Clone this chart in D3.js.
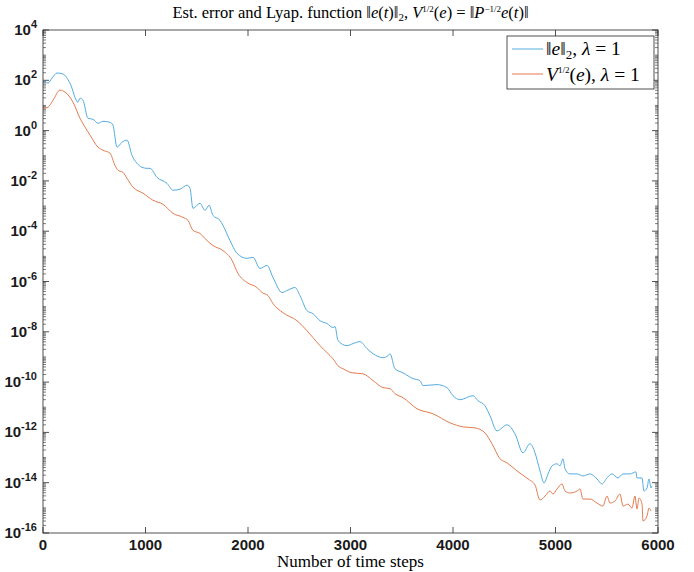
<!DOCTYPE html>
<html>
<head>
<meta charset="utf-8">
<script src="https://cdn.jsdelivr.net/npm/d3@7"></script>
<style>
  body { margin: 0; background: #fff; }
  .tick-lbl { font-family: "Liberation Sans", Arial, sans-serif; font-weight: bold; fill: #1a1a1a; }
  .tex { font-family: "Liberation Serif", "DejaVu Serif", serif; fill: #000; }
</style>
</head>
<body>
<div id="chart"></div>
<script>
// Data (x = time step, y stored as log10 of the value)
const errSteps = [0, 49, 88, 137, 195, 263, 341, 361, 390, 439, 488, 537, 585, 654, 683, 722, 771, 820, 868, 917,
  966, 1015, 1044, 1112, 1210, 1268, 1337, 1405, 1434, 1463, 1532, 1580, 1620, 1658, 1727, 1756, 1824, 1893, 1990, 2049,
  2117, 2185, 2244, 2332, 2380, 2459, 2507, 2576, 2634, 2702, 2771, 2829, 2849, 2878, 2966, 3024, 3093, 3161, 3220, 3317,
  3366, 3385, 3434, 3512, 3610, 3678, 3707, 3844, 3941, 4000, 4068, 4195, 4244, 4312, 4361, 4429, 4527, 4605, 4683, 4751,
  4800, 4849, 4888, 4927, 4966, 5015, 5044, 5073, 5093, 5141, 5210, 5268, 5337, 5405, 5454, 5502, 5551, 5610, 5659, 5727,
  5785, 5795, 5844, 5863, 5893, 5912, 5932, 5941];
const errLog = [2.01, 1.89, 2.09, 2.29, 2.25, 1.89, 1.13, 1.29, 1.21, 0.49, 0.45, 0.29, 0.37, 0.33, 0.21, -0.66, -0.46, -0.38, -0.98, -1.30,
  -1.46, -1.50, -1.50, -1.86, -2.10, -2.37, -2.33, -2.17, -2.29, -3.09, -2.89, -3.17, -2.97, -3.37, -3.57, -3.77, -4.37, -4.88, -5.08, -5.04,
  -5.48, -5.36, -5.84, -6.44, -6.36, -6.24, -6.56, -7.16, -7.28, -7.56, -7.67, -7.83, -7.79, -8.35, -8.55, -8.47, -8.39, -8.67, -8.87, -9.03,
  -8.95, -8.87, -9.47, -9.63, -9.86, -9.94, -10.14, -10.10, -10.22, -10.54, -10.70, -10.54, -10.74, -10.94, -11.34, -11.94, -11.70, -12.06, -12.81, -12.45,
  -12.81, -13.53, -14.01, -13.65, -13.33, -13.25, -13.33, -13.05, -13.45, -13.65, -13.65, -13.73, -13.65, -13.85, -14.05, -13.81, -13.65, -13.81, -13.65, -13.65,
  -13.57, -13.81, -13.81, -14.33, -14.21, -13.85, -14.21, -14.13];

const lyapSteps = [0, 49, 98, 166, 215, 293, 361, 410, 459, 537, 585, 654, 702, 732, 780, 820, 878, 976, 1073, 1171,
  1268, 1366, 1415, 1463, 1532, 1580, 1658, 1756, 1844, 1902, 1990, 2088, 2137, 2195, 2244, 2341, 2478, 2576, 2634, 2702,
  2771, 2829, 2878, 2927, 3015, 3122, 3220, 3317, 3385, 3434, 3512, 3649, 3805, 3971, 4098, 4215, 4312, 4380, 4459, 4527,
  4624, 4732, 4800, 4849, 4898, 4946, 4976, 5015, 5063, 5093, 5141, 5210, 5239, 5268, 5337, 5405, 5463, 5502, 5532, 5580,
  5629, 5659, 5707, 5746, 5775, 5795, 5815, 5844, 5854, 5893, 5912, 5932];
const lyapLog = [0.89, 0.93, 1.21, 1.61, 1.53, 1.13, 0.49, 0.14, -0.18, -0.66, -0.78, -0.90, -1.38, -1.58, -1.66, -1.90, -2.25, -2.49, -2.77, -2.93,
  -3.29, -3.45, -3.57, -3.97, -4.09, -4.29, -4.57, -4.77, -5.16, -5.68, -6.04, -6.24, -6.44, -6.56, -6.88, -7.24, -7.56, -7.96, -8.23, -8.55,
  -8.83, -9.07, -9.35, -9.47, -9.63, -9.67, -9.94, -10.22, -10.26, -10.46, -10.62, -11.06, -11.26, -11.62, -11.78, -11.82, -12.02, -12.45, -13.05, -13.21,
  -13.53, -13.85, -14.09, -14.69, -14.53, -14.33, -14.45, -14.25, -14.05, -14.33, -14.41, -14.33, -14.25, -14.65, -14.65, -14.81, -14.93, -14.53, -14.81, -14.73,
  -14.45, -14.93, -14.85, -15.01, -14.53, -15.05, -14.61, -14.85, -15.52, -15.32, -15.01, -15.12];

const xTicks = [0, 1000, 2000, 3000, 4000, 5000, 6000];
const yTickExps = [-16, -14, -12, -10, -8, -6, -4, -2, 0, 2, 4];

const blue = "#55ACE0", orange = "#E47B4E";

// Layout
const W = 694, H = 572;
const margin = { top: 30, right: 36, bottom: 39, left: 43 };
const width = W - margin.left - margin.right;
const height = H - margin.top - margin.bottom;

const svg = d3.select("#chart").append("svg")
  .attr("width", W)
  .attr("height", H);

const g = svg.append("g")
  .attr("transform", `translate(${margin.left},${margin.top})`);

const x = d3.scaleLinear().domain([0, 6000]).range([0, width]);
const y = d3.scaleLog().domain([1e-16, 1e4]).range([height, 0]);

const axisColor = "#262626";

// Minor ticks on the log axis (left and right, inward)
const minor = [];
for (let e = -16; e < 4; e++) {
  for (let m = 1; m <= 9; m++) {
    if (m === 1 && e % 2 === 0) continue;
    minor.push(m * Math.pow(10, e));
  }
}
g.selectAll(".ymin").data(minor).enter().append("path")
  .attr("d", d => `M0,${y(d)}h3M${width},${y(d)}h-3`)
  .attr("stroke", axisColor).attr("stroke-width", 0.6);

// Major y ticks
g.selectAll(".ymaj").data(yTickExps).enter().append("path")
  .attr("d", d => `M0,${y(Math.pow(10, d))}h6M${width},${y(Math.pow(10, d))}h-6`)
  .attr("stroke", axisColor).attr("stroke-width", 0.8);

// y tick labels 10^k
const ylab = g.selectAll(".ylab").data(yTickExps).enter().append("text")
  .attr("class", "tick-lbl")
  .attr("x", -6)
  .attr("y", d => y(Math.pow(10, d)) + 5)
  .attr("text-anchor", "end")
  .style("font-size", "15px");
ylab.append("tspan").text("10");
ylab.append("tspan").attr("dy", -7).style("font-size", "11px").text(d => d < 0 ? "-" + (-d) : d);

// x ticks (bottom and top, inward)
g.selectAll(".xmaj").data(xTicks).enter().append("path")
  .attr("d", d => `M${x(d)},${height}v-6M${x(d)},0v6`)
  .attr("stroke", axisColor).attr("stroke-width", 0.8);

g.selectAll(".xlab").data(xTicks).enter().append("text")
  .attr("class", "tick-lbl")
  .attr("x", d => x(d))
  .attr("y", height + 17)
  .attr("text-anchor", "middle")
  .style("font-size", "15px")
  .text(d => d);

// Lines
const line = d3.line()
  .x(d => x(d[0]))
  .y(d => y(Math.pow(10, d[1])))
  .curve(d3.curveMonotoneX);

g.append("path")
  .datum(d3.zip(errSteps, errLog))
  .attr("fill", "none")
  .attr("stroke", blue)
  .attr("stroke-width", 1)
  .attr("d", line);

g.append("path")
  .datum(d3.zip(lyapSteps, lyapLog))
  .attr("fill", "none")
  .attr("stroke", orange)
  .attr("stroke-width", 1)
  .attr("d", line);

// Box
g.append("rect")
  .attr("width", width).attr("height", height)
  .attr("fill", "none").attr("stroke", axisColor).attr("stroke-width", 0.8);

// Legend
const leg = g.append("g").attr("transform", `translate(${507 - margin.left},${36 - margin.top})`);
leg.append("rect").attr("width", 147).attr("height", 53)
  .attr("fill", "#fff").attr("stroke", axisColor).attr("stroke-width", 0.8);
leg.append("line").attr("x1", 5).attr("x2", 36).attr("y1", 13).attr("y2", 13)
  .attr("stroke", blue).attr("stroke-width", 1);
leg.append("line").attr("x1", 5).attr("x2", 36).attr("y1", 38).attr("y2", 38)
  .attr("stroke", orange).attr("stroke-width", 1);

const l1 = leg.append("text").attr("class", "tex").attr("x", 39).attr("y", 19).style("font-size", "19.5px");
l1.append("tspan").text("\u2016");
l1.append("tspan").style("font-style", "italic").text("e");
l1.append("tspan").text("\u2016");
l1.append("tspan").attr("dy", 4).style("font-size", "13px").text("2");
l1.append("tspan").attr("dy", -4).text(", ");
l1.append("tspan").style("font-style", "italic").text("\u03bb");
l1.append("tspan").text(" = 1");

const l2 = leg.append("text").attr("class", "tex").attr("x", 39).attr("y", 45).style("font-size", "19.5px");
l2.append("tspan").style("font-style", "italic").text("V");
l2.append("tspan").attr("dy", -8).style("font-size", "9px").text("1/2");
l2.append("tspan").attr("dy", 8).text("(");
l2.append("tspan").style("font-style", "italic").text("e");
l2.append("tspan").text("), ");
l2.append("tspan").style("font-style", "italic").text("\u03bb");
l2.append("tspan").text(" = 1");

// Title
const title = svg.append("text").attr("class", "tex")
  .attr("x", margin.left + width / 2).attr("y", 18)
  .attr("text-anchor", "middle").style("font-size", "16.5px");
title.append("tspan").text("Est. error and Lyap. function \u2016");
title.append("tspan").style("font-style", "italic").text("e");
title.append("tspan").text("(");
title.append("tspan").style("font-style", "italic").text("t");
title.append("tspan").text(")\u2016");
title.append("tspan").attr("dy", 3).style("font-size", "11px").text("2");
title.append("tspan").attr("dy", -3).text(", ");
title.append("tspan").style("font-style", "italic").text("V");
title.append("tspan").attr("dy", -6).style("font-size", "9px").text("1/2");
title.append("tspan").attr("dy", 6).text("(");
title.append("tspan").style("font-style", "italic").text("e");
title.append("tspan").text(") = \u2016");
title.append("tspan").style("font-style", "italic").text("P");
title.append("tspan").attr("dy", -6).style("font-size", "9px").text("\u22121/2");
title.append("tspan").attr("dy", 6).style("font-style", "italic").text("e");
title.append("tspan").text("(");
title.append("tspan").style("font-style", "italic").text("t");
title.append("tspan").text(")\u2016");

// x axis label
svg.append("text").attr("class", "tex")
  .attr("x", margin.left + width / 2).attr("y", 567)
  .attr("text-anchor", "middle").style("font-size", "17px")
  .text("Number of time steps");
</script>
</body>
</html>
